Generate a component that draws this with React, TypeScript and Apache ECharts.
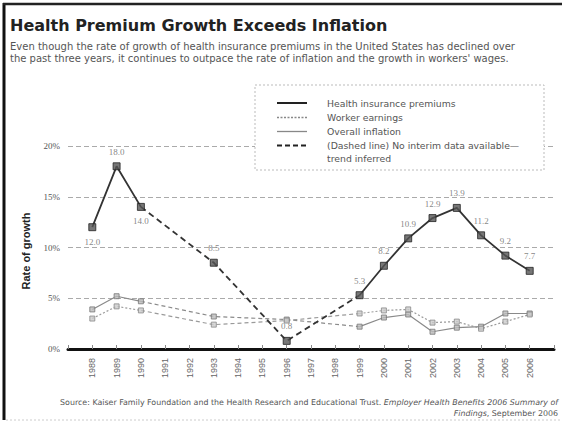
import React, { useEffect, useRef } from "react";
import * as echarts from "echarts";

// ---- data ----
const yearTicks = [1988, 1989, 1990, 1991, 1992, 1993, 1994, 1995, 1996, 1997, 1998, 1999, 2000, 2001, 2002, 2003, 2004, 2005, 2006];
const dataYears = [1988, 1989, 1990, 1993, 1996, 1999, 2000, 2001, 2002, 2003, 2004, 2005, 2006];
const healthPremiums = [12.0, 18.0, 14.0, 8.5, 0.8, 5.3, 8.2, 10.9, 12.9, 13.9, 11.2, 9.2, 7.7];
const overallInflation = [3.9, 5.2, 4.7, 3.2, 2.9, 2.2, 3.1, 3.4, 1.7, 2.1, 2.2, 3.5, 3.5];
const workerEarnings = [3.0, 4.2, 3.8, 2.4, 2.8, 3.5, 3.8, 3.9, 2.6, 2.7, 2.0, 2.7, 3.4];
const yTicks = [0, 5, 10, 15, 20];
const labelBelowYears = [1988, 1990];

const titleText = "Health Premium Growth Exceeds Inflation";
const subtitleLines = [
  "Even though the rate of growth of health insurance premiums in the United States has declined over",
  "the past three years, it continues to outpace the rate of inflation and the growth in workers' wages.",
];
const legendLabels = [
  "Health insurance premiums",
  "Worker earnings",
  "Overall inflation",
  "(Dashed line) No interim data available\u2014",
  "trend inferred",
];

// split a series into solid (consecutive years) and dashed (gap-bridging) segments
function splitSegments(years: number[], vals: number[]) {
  const solid: any[] = [];
  const dashed: any[] = [];
  for (let i = 0; i < years.length - 1; i++) {
    const a = [years[i], vals[i]];
    const b = [years[i + 1], vals[i + 1]];
    const target = years[i + 1] - years[i] === 1 ? solid : dashed;
    const last = target[target.length - 1];
    if (last && last[1] !== "-" && last[0] === a[0] && last[1] === a[1]) {
      target.push(b);
    } else {
      if (target.length) target.push([(a[0] + last[0]) / 2, "-"]);
      target.push(a, b);
    }
  }
  return { solid, dashed };
}

export default function App() {
  const ref = useRef<HTMLDivElement>(null);
  useEffect(() => {
    if (!ref.current) return;
    const chart = echarts.init(ref.current, null, { renderer: "svg" });
    const h = splitSegments(dataYears, healthPremiums);
    const inf = splitSegments(dataYears, overallInflation);
    const ear = splitSegments(dataYears, workerEarnings);

    const lineBase = { type: "line", showSymbol: false, silent: true, animation: false };

    const legendX0 = 277;
    const legendX1 = 307;
    const legendRowsY = [103, 117.5, 131.5, 145.5, 158.5];
    const legendLineStyles = [
      { stroke: "#222", lineWidth: 2 },
      { stroke: "#888", lineWidth: 1.3, lineDash: [2, 1.5] },
      { stroke: "#888", lineWidth: 1.3 },
      { stroke: "#222", lineWidth: 2, lineDash: [5, 3] },
    ];
    const labelStyle = {
      show: true,
      distance: 6,
      fontSize: 9,
      color: "#666",
      fontFamily: "Liberation Serif",
      textBorderWidth: 0,
      textBorderColor: "transparent",
    };

    chart.setOption({
      animation: false,
      backgroundColor: "#fff",
      grid: { left: 68, right: 8, top: 146, bottom: 77, containLabel: false },
      xAxis: {
        type: "value",
        min: 1987,
        max: 2007,
        interval: 1,
        splitLine: { show: false },
        axisLine: { show: true, onZero: false, lineStyle: { color: "#111", width: 3 } },
        axisTick: { show: true, inside: true, length: 4, lineStyle: { color: "#888" } },
        axisLabel: {
          rotate: 90,
          margin: 9,
          fontSize: 9,
          color: "#666",
          fontFamily: "Liberation Sans",
          formatter: (v: number) => (yearTicks.includes(v) ? String(v) : ""),
        },
      },
      yAxis: {
        type: "value",
        min: yTicks[0],
        max: yTicks[yTicks.length - 1],
        interval: 5,
        axisLine: { show: false },
        axisTick: { show: false },
        axisLabel: { formatter: "{value}%", fontSize: 9, color: "#555", fontFamily: "Liberation Serif", margin: 8 },
        splitLine: { lineStyle: { color: "#aaa", type: [5, 3], width: 1 } },
      },
      series: [
        { ...lineBase, data: inf.solid, lineStyle: { color: "#8a8a8a", width: 1.2 }, z: 2 },
        { ...lineBase, data: inf.dashed, lineStyle: { color: "#8a8a8a", width: 1.2, type: [4, 3] }, z: 2 },
        { ...lineBase, data: ear.solid, lineStyle: { color: "#9a9a9a", width: 1.2, type: [2, 2] }, z: 2 },
        { ...lineBase, data: ear.dashed, lineStyle: { color: "#9a9a9a", width: 1.2, type: [4, 3] }, z: 2 },
        {
          type: "scatter",
          symbol: "rect",
          symbolSize: 5,
          silent: true,
          data: dataYears.map((y, i) => [y, overallInflation[i]]),
          itemStyle: { color: "#bbb", borderColor: "#777", borderWidth: 1 },
          z: 3,
        },
        {
          type: "scatter",
          symbol: "rect",
          symbolSize: 5,
          silent: true,
          data: dataYears.map((y, i) => [y, workerEarnings[i]]),
          itemStyle: { color: "#ccc", borderColor: "#888", borderWidth: 1 },
          z: 3,
        },
        { ...lineBase, data: h.solid, lineStyle: { color: "#333", width: 1.8 }, z: 4 },
        { ...lineBase, data: h.dashed, lineStyle: { color: "#333", width: 1.8, type: [6, 4] }, z: 4 },
        {
          type: "scatter",
          symbol: "rect",
          symbolSize: 7,
          silent: true,
          z: 5,
          itemStyle: { color: "#555", borderColor: "#222", borderWidth: 1 },
          label: { ...labelStyle, position: "top" },
          data: dataYears.map((y, i) => ({
            value: [y, healthPremiums[i]],
            label: {
              ...labelStyle,
              position: labelBelowYears.includes(y) ? "bottom" : "top",
              formatter: healthPremiums[i].toFixed(1),
            },
          })),
        },
      ],
      graphic: [
        // frame
        { type: "line", shape: { x1: 4, y1: 3, x2: 4, y2: 420 }, style: { stroke: "#111", lineWidth: 3 } },
        { type: "line", shape: { x1: 3, y1: 4, x2: 562, y2: 4 }, style: { stroke: "#222", lineWidth: 2.5 } },
        { type: "line", shape: { x1: 6, y1: 420, x2: 562, y2: 420 }, style: { stroke: "#ccc", lineWidth: 1, lineDash: [2, 2] } },
        // title
        {
          type: "text",
          x: 10,
          y: 17,
          style: { text: titleText, font: "bold 16px 'DejaVu Sans'", fill: "#222" },
        },
        ...subtitleLines.map((t, i) => ({
          type: "text",
          x: 10,
          y: 41 + i * 12,
          style: { text: t, font: "10px 'DejaVu Sans'", fill: "#555" },
        })),
        // y axis title
        {
          type: "text",
          x: 26,
          y: 251,
          rotation: Math.PI / 2,
          style: {
            text: "Rate of growth",
            font: "bold 11px 'Liberation Sans'",
            fill: "#222",
            align: "center",
            verticalAlign: "middle",
          },
        },
        // legend box
        {
          type: "rect",
          shape: { x: 255, y: 85, width: 289, height: 85 },
          style: { fill: "#fff", stroke: "#bbb", lineWidth: 1, lineDash: [2, 2] },
          z: 10,
        },
        ...legendLineStyles.map((s, i) => ({
          type: "line",
          shape: { x1: legendX0, y1: legendRowsY[i], x2: legendX1, y2: legendRowsY[i] },
          style: s,
          z: 11,
        })),
        ...legendLabels.map((t, i) => ({
          type: "text",
          x: 327,
          y: legendRowsY[i],
          style: { text: t, font: "9.3px 'DejaVu Sans'", fill: "#555", verticalAlign: "middle" },
          z: 11,
        })),
        // source
        {
          type: "text",
          x: 558,
          y: 398,
          style: {
            text:
              "{n|Source: Kaiser Family Foundation and the Health Research and Educational Trust. }{i|Employer Health Benefits 2006 Summary of}",
            align: "right",
            rich: {
              n: { font: "7.9px 'DejaVu Sans'", fill: "#555" },
              i: { font: "italic 7.9px 'DejaVu Sans'", fill: "#555" },
            },
          },
        },
        {
          type: "text",
          x: 558,
          y: 409,
          style: {
            text: "{i|Findings}{n|, September 2006}",
            align: "right",
            rich: {
              n: { font: "7.9px 'DejaVu Sans'", fill: "#555" },
              i: { font: "italic 7.9px 'DejaVu Sans'", fill: "#555" },
            },
          },
        },
      ],
    });
    return () => chart.dispose();
  }, []);
  return <div ref={ref} style={{ position: "fixed", left: 0, top: 0, width: 562, height: 426 }} />;
}
